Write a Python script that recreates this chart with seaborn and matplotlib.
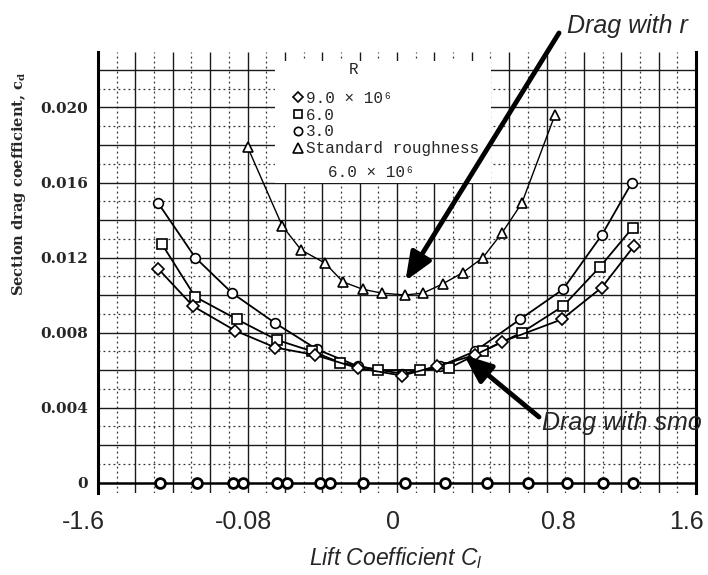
import numpy as np
import matplotlib
matplotlib.use("Agg")
import matplotlib.pyplot as plt
import seaborn as sns
from matplotlib.lines import Line2D
from matplotlib.font_manager import FontProperties

# values (cl, cd)
cl_rough = [-0.80, -0.615, -0.513, -0.385, -0.289, -0.182, -0.080, 0.043, 0.139, 0.246, 0.353, 0.460, 0.561, 0.668, 0.845]
cd_rough = [0.0179, 0.0137, 0.0124, 0.0117, 0.0107, 0.0103, 0.0101, 0.0100, 0.0101, 0.0106, 0.0112, 0.0120, 0.0133, 0.0149, 0.0196]

cl_r3 = [-1.278, -1.080, -0.882, -0.652, -0.428, -0.209, 0.027, 0.230, 0.417, 0.658, 0.888, 1.096, 1.257]
cd_r3 = [0.0149, 0.0120, 0.0101, 0.0085, 0.0071, 0.0062, 0.0058, 0.0062, 0.0070, 0.0087, 0.0103, 0.0132, 0.0160]

cl_r6 = [-1.257, -1.080, -0.856, -0.642, -0.455, -0.305, -0.102, 0.123, 0.278, 0.460, 0.668, 0.888, 1.086, 1.262]
cd_r6 = [0.0127, 0.0099, 0.0087, 0.0076, 0.0070, 0.0064, 0.0060, 0.0060, 0.0061, 0.0070, 0.0080, 0.0094, 0.0115, 0.0136]

cl_r9 = [-1.278, -1.091, -0.866, -0.652, -0.439, -0.209, 0.027, 0.214, 0.417, 0.561, 0.882, 1.096, 1.267]
cd_r9 = [0.0114, 0.0094, 0.0081, 0.0072, 0.0068, 0.0061, 0.0057, 0.0062, 0.0068, 0.0075, 0.0087, 0.0104, 0.0126]

cl_bottom = [-1.267, -1.070, -0.877, -0.824, -0.642, -0.588, -0.412, -0.358, -0.182, 0.043, 0.257, 0.481, 0.701, 0.909, 1.102, 1.262]
cd_bottom = [0.0] * len(cl_bottom)

ytick_vals = [0, 0.004, 0.008, 0.012, 0.016, 0.020]
ytick_labels = ["0", "0.004", "0.008", "0.012", "0.016", "0.020"]
# the x labels sit where they were pasted onto the scan
xtick_pos = [-1.68, -0.82, -0.02, 0.865, 1.55]
xtick_labels = ["-1.6", "-0.08", "0", "0.8", "1.6"]

legend_labels = ["9.0 \u00d7 10\u2076", "6.0", "3.0", "Standard roughness"]

sns.set_style("white")
plt.rcParams["font.family"] = ["Liberation Sans", "DejaVu Sans"]
plt.rcParams["mathtext.fontset"] = "custom"
plt.rcParams["mathtext.rm"] = "Liberation Sans"
plt.rcParams["mathtext.it"] = "Liberation Sans:italic"
plt.rcParams["mathtext.bf"] = "DejaVu Serif:bold"

fig = plt.figure(figsize=(7.08, 5.75), dpi=100)
# axes start a bit left of the chart frame so the "-1.6" label fits inside the view
ax = fig.add_axes([70 / 708, 82 / 575, 626 / 708, 441 / 575])
ax.set_xlim(-1.75, 1.6)
ax.set_ylim(-0.00056, 0.02296)
ymin, ymax = ax.get_ylim()

# scan grid: solid every 0.2 / 0.002, dotted in between
ax.vlines(np.arange(-1.4, 1.41, 0.2), ymin, ymax, colors="#1a1a1a", lw=1.0, zorder=1)
ax.vlines(np.arange(-1.5, 1.51, 0.2), ymin, ymax, colors="#333333", lw=0.9,
          linestyles=(0, (1.5, 2.5)), zorder=1)
ax.hlines(np.arange(0.002, 0.0221, 0.002), -1.6, 1.6, colors="#1a1a1a", lw=1.0, zorder=1)
ax.hlines(np.arange(0.001, 0.0226, 0.002), -1.6, 1.6, colors="#333333", lw=0.9,
          linestyles=(0, (1.5, 2.5)), zorder=1)
ax.hlines([0], -1.6, 1.6, colors="k", lw=1.8, zorder=2)

# blank patch behind the key, as on the scan
ax.add_patch(plt.Rectangle((-0.652, 0.0160), 1.155, 0.0065, facecolor="white",
                           edgecolor="none", zorder=2))

mk = dict(markerfacecolor="white", markeredgecolor="k", markeredgewidth=1.2)
sns.lineplot(x=cl_rough, y=cd_rough, ax=ax, color="k", lw=1.0, marker="^", markersize=7.5, zorder=3, **mk)
sns.lineplot(x=cl_r3, y=cd_r3, ax=ax, color="k", lw=1.3, marker="o", markersize=7, zorder=3, **mk)
sns.lineplot(x=cl_r6, y=cd_r6, ax=ax, color="k", lw=1.3, marker="s", markersize=6.5, zorder=3, **mk)
sns.lineplot(x=cl_r9, y=cd_r9, ax=ax, color="k", lw=1.3, marker="D", markersize=6, zorder=3, **mk)
sns.scatterplot(x=cl_bottom, y=cd_bottom, ax=ax, marker="o", s=50, facecolor="white",
                edgecolor="k", linewidth=2, zorder=4)

for side in ["top", "bottom"]:
    ax.spines[side].set_visible(False)
for side in ["left", "right"]:
    ax.spines[side].set_linewidth(2.2)
    ax.spines[side].set_color("k")
ax.spines["left"].set_position(("data", -1.6))

ax.set_yticks(ytick_vals)
ax.set_yticklabels(ytick_labels, fontfamily="DejaVu Serif", fontweight="bold", fontsize=11)
ax.set_xticks(xtick_pos)
ax.set_xticklabels(xtick_labels, fontsize=18)
ax.tick_params(axis="y", length=0, pad=7)
ax.tick_params(axis="x", length=0, pad=12)

ax.set_ylabel(r"Section drag coefficient, $\mathbf{c_d}$", fontfamily="DejaVu Serif",
              fontweight="bold", fontsize=10.5)
ax.yaxis.set_label_coords(28 / 708, 1 - 184 / 575, transform=fig.transFigure)
ax.set_xlabel(r"Lift Coefficient $C_l$", fontsize=16.5, style="italic")
ax.xaxis.set_label_coords(396 / 708, 1 - 545 / 575, transform=fig.transFigure)

mono = FontProperties(family=["Liberation Mono", "DejaVu Sans Mono"], size=11.5)
handles = [Line2D([], [], ls="none", marker=m, markersize=s, **mk)
           for m, s in [("D", 5.5), ("s", 5.5), ("o", 6), ("^", 6.5)]]
ax.legend(handles, legend_labels, loc="upper left", bbox_to_anchor=(-0.56, 0.0209),
          bbox_transform=ax.transData, frameon=False, prop=mono, handlelength=0.7,
          handletextpad=0.15, labelspacing=0.12, borderpad=0, borderaxespad=0)
ax.text(-0.23, 0.0220, "R", ha="center", va="center", fontproperties=mono, zorder=5)
ax.text(-0.369, 0.01656, "6.0 \u00d7 10\u2076", ha="left", va="center",
        fontproperties=mono, zorder=5)

# pasted-on annotations (cut by the right edge of the scan)
fig.text(567 / 708, 1 - 33 / 575, "Drag with r", fontsize=18, style="italic", va="baseline")
fig.text(542 / 708, 1 - 430 / 575, "Drag with smo", fontsize=18, style="italic", va="baseline")
arrow = dict(arrowstyle="-|>,head_length=0.85,head_width=0.35", color="k", lw=3.5,
             mutation_scale=20, shrinkA=0, shrinkB=0)
ax.annotate("", xy=(0.045, 0.01075), xycoords="data",
            xytext=(559 / 708, 1 - 33 / 575), textcoords="figure fraction", arrowprops=arrow, zorder=6)
ax.annotate("", xy=(0.358, 0.0068), xycoords="data",
            xytext=(539 / 708, 1 - 417 / 575), textcoords="figure fraction", arrowprops=arrow, zorder=6)

fig.savefig("out.png", dpi=100)
